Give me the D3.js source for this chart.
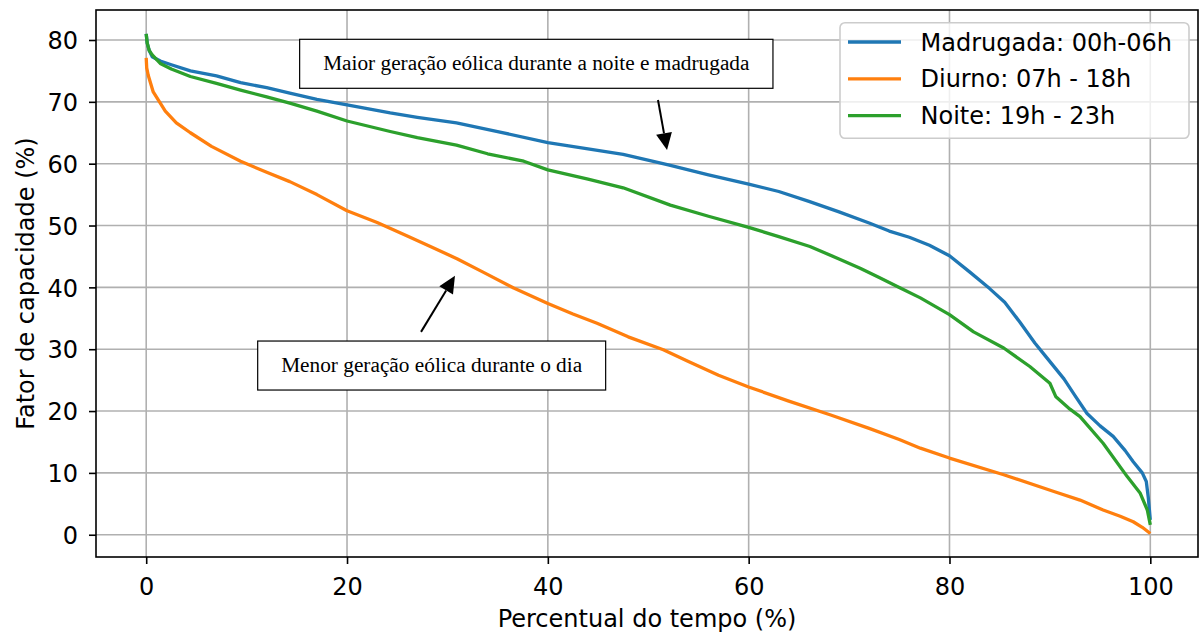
<!DOCTYPE html>
<html>
<head>
<meta charset="utf-8">
<script src="https://cdn.jsdelivr.net/npm/d3@7"></script>
<style>
  html, body { margin: 0; padding: 0; background: #fff; }
  svg { display: block; }
</style>
</head>
<body>
<svg id="chart" width="1202" height="635"></svg>
<script>
// ---------------- DATA ----------------
const seriesNames = ["Madrugada: 00h-06h", "Diurno: 07h - 18h", "Noite: 19h - 23h"];
const seriesColors = ["#1f77b4", "#ff7f0e", "#2ca02c"];

const xMadrugada = [0, 0.1, 0.3, 0.6, 1.4, 2.5, 4.4, 7, 9.4, 12, 14.3, 17, 20, 24.3, 27, 30.9, 35, 40, 44, 47.5, 52, 56, 60, 63, 66, 69, 72, 74, 76, 78, 80, 82, 84, 85.5, 87, 88.5, 89.5, 91.4, 92.5, 93.7, 95, 96.3, 97.5, 98.3, 99.2, 99.6, 99.8, 100];
const yMadrugada = [81.0, 79.5, 78.3, 77.3, 76.6, 76.0, 75.0, 74.2, 73.1, 72.3, 71.4, 70.4, 69.5, 68.2, 67.5, 66.6, 65.2, 63.4, 62.4, 61.5, 59.8, 58.2, 56.7, 55.5, 53.9, 52.2, 50.4, 49.1, 48.1, 46.8, 45.1, 42.5, 39.8, 37.6, 34.4, 31.0, 29.0, 25.2, 22.5, 19.6, 17.6, 15.9, 13.6, 11.8, 10.0, 8.6, 6.0, 2.4];

const xDiurno = [0, 0.05, 0.2, 0.7, 1.9, 3, 4.4, 6.5, 9.4, 12, 14.3, 17, 20, 23, 26, 28.3, 31, 33.5, 36.6, 40, 42.5, 44.9, 48, 51.5, 54, 57, 60, 64, 68.1, 72, 75, 77.1, 80, 85.4, 90.4, 93, 95.3, 97, 98.3, 99.2, 100];
const yDiurno = [77.1, 75.5, 74.3, 71.6, 68.5, 66.6, 65.0, 62.8, 60.4, 58.6, 57.1, 55.0, 52.4, 50.5, 48.3, 46.6, 44.6, 42.5, 39.9, 37.4, 35.7, 34.2, 32.0, 29.9, 28.0, 25.8, 23.9, 21.6, 19.4, 17.2, 15.4, 14.0, 12.4, 9.7, 7.0, 5.6, 4.0, 3.0, 2.1, 1.2, 0.2];

const xNoite = [0, 0.1, 0.3, 0.6, 1.4, 2.5, 4.4, 7, 9.4, 12, 14.3, 17, 20, 24.3, 27, 30.9, 34, 37.6, 40, 44, 47.5, 52.2, 56, 60, 63, 66.1, 69, 71.1, 73, 75.1, 77.1, 80, 82.4, 85.4, 88, 90, 90.6, 92, 93, 95.3, 97.7, 99, 99.7, 100];
const yNoite = [81.0, 79.5, 78.3, 77.6, 76.2, 75.3, 74.1, 73.0, 71.9, 70.8, 69.8, 68.5, 66.9, 65.2, 64.2, 63.0, 61.6, 60.4, 59.0, 57.5, 56.1, 53.3, 51.5, 49.7, 48.2, 46.6, 44.6, 43.1, 41.6, 39.9, 38.3, 35.6, 32.8, 30.2, 27.2, 24.5, 22.3, 20.3, 19.1, 14.8, 9.4, 6.7, 4.0, 1.6];

const xTicks = [0, 20, 40, 60, 80, 100];
const yTicks = [0, 10, 20, 30, 40, 50, 60, 70, 80];

const xLabel = "Percentual do tempo (%)";
const yLabel = "Fator de capacidade (%)";

const annTexts = ["Maior geração eólica durante a noite e madrugada", "Menor geração eólica durante o dia"];
const annTextPos = [[38.85, 76.15], [28.43, 27.36]];
const annArrowFrom = [[50.97, 70.3], [27.37, 32.8]];
const annArrowTo = [[51.87, 62.2], [30.75, 41.86]];

// ---------------- LAYOUT ----------------
const L = 96, R = 1198, T = 10, B = 557;
const svg = d3.select("#chart");
const x = d3.scaleLinear().domain([-5, 104.75]).range([L, R]);
const y = d3.scaleLinear().domain([-3.6, 84.85]).range([B, T]);
const sans = "'DejaVu Sans', sans-serif";
const serif = "'Liberation Serif', 'Times New Roman', serif";

// grid
const grid = svg.append("g");
grid.selectAll("line.gx").data(xTicks).join("line")
  .attr("x1", d => x(d)).attr("x2", d => x(d)).attr("y1", T).attr("y2", B)
  .attr("stroke", "#b0b0b0").attr("stroke-width", 1.6);
grid.selectAll("line.gy").data(yTicks).join("line")
  .attr("y1", d => y(d)).attr("y2", d => y(d)).attr("x1", L).attr("x2", R)
  .attr("stroke", "#b0b0b0").attr("stroke-width", 1.6);

// lines
const series = [
  {xs: xMadrugada, ys: yMadrugada, c: seriesColors[0]},
  {xs: xDiurno, ys: yDiurno, c: seriesColors[1]},
  {xs: xNoite, ys: yNoite, c: seriesColors[2]}
];
const lineGen = d3.line().x(d => x(d[0])).y(d => y(d[1]));
series.forEach(s => {
  svg.append("path")
    .datum(s.xs.map((v, i) => [v, s.ys[i]]))
    .attr("d", lineGen)
    .attr("fill", "none").attr("stroke", s.c).attr("stroke-width", 3.3)
    .attr("stroke-linejoin", "round").attr("stroke-linecap", "butt");
});

// axes
const xAxis = svg.append("g").attr("transform", `translate(0,${B})`)
  .call(d3.axisBottom(x).tickValues(xTicks).tickFormat(d3.format("d")).tickSize(7).tickPadding(14));
const yAxis = svg.append("g").attr("transform", `translate(${L},0)`)
  .call(d3.axisLeft(y).tickValues(yTicks).tickFormat(d3.format("d")).tickSize(7).tickPadding(11));
[xAxis, yAxis].forEach(a => {
  a.select(".domain").remove();
  a.selectAll(".tick line").attr("stroke", "#000").attr("stroke-width", 1.6);
  a.selectAll(".tick text").attr("font-family", sans).attr("font-size", 24).attr("fill", "#000");
});
yAxis.selectAll(".tick text").attr("dy", "0.36em");

// frame
svg.append("rect").attr("x", L).attr("y", T).attr("width", R - L).attr("height", B - T)
  .attr("fill", "none").attr("stroke", "#000").attr("stroke-width", 1.6);

// axis labels
svg.append("text").attr("x", (L + R) / 2).attr("y", 627).attr("text-anchor", "middle")
  .attr("font-family", sans).attr("font-size", 24).text(xLabel);
svg.append("text").attr("transform", `translate(34,${(T + B) / 2}) rotate(-90)`).attr("text-anchor", "middle")
  .attr("font-family", sans).attr("font-size", 24).text(yLabel);

// annotations
annTexts.forEach((t, i) => {
  const g = svg.append("g");
  const cx = x(annTextPos[i][0]), cy = y(annTextPos[i][1]);
  const rect = g.append("rect");
  const txt = g.append("text").attr("x", cx).attr("y", cy).attr("dy", "0.3em")
    .attr("text-anchor", "middle").attr("font-family", serif).attr("font-size", 21.3)
    .attr("fill", "#000").text(t);
  const w = txt.node().getComputedTextLength() + 47;
  rect.attr("x", cx - w / 2).attr("y", cy - 24.5).attr("width", w).attr("height", 49)
    .attr("fill", "#fff").attr("stroke", "#000").attr("stroke-width", 1.2);
  // arrow
  const x0 = x(annArrowFrom[i][0]), y0 = y(annArrowFrom[i][1]);
  const x1 = x(annArrowTo[i][0]), y1 = y(annArrowTo[i][1]);
  const ang = Math.atan2(y1 - y0, x1 - x0);
  const hl = 17, hw = 8;
  const bx = x1 - hl * Math.cos(ang), by = y1 - hl * Math.sin(ang);
  svg.append("line").attr("x1", x0).attr("y1", y0).attr("x2", bx).attr("y2", by)
    .attr("stroke", "#000").attr("stroke-width", 2);
  const px = -Math.sin(ang), py = Math.cos(ang);
  svg.append("polygon")
    .attr("points", [[x1, y1], [bx + hw * px, by + hw * py], [bx - hw * px, by - hw * py]].map(p => p.join(",")).join(" "))
    .attr("fill", "#000");
});

// legend
const lg = svg.append("g");
lg.append("rect").attr("x", 840).attr("y", 22.7).attr("width", 349).attr("height", 115.6)
  .attr("rx", 5).attr("ry", 5).attr("fill", "#fff").attr("fill-opacity", 0.8)
  .attr("stroke", "#cccccc").attr("stroke-width", 1.6);
seriesNames.forEach((n, i) => {
  const ly = 42 + i * 36.8;
  lg.append("line").attr("x1", 848).attr("x2", 901).attr("y1", ly).attr("y2", ly)
    .attr("stroke", seriesColors[i]).attr("stroke-width", 3.3);
  lg.append("text").attr("x", 920.5).attr("y", ly).attr("dy", "0.36em")
    .attr("font-family", sans).attr("font-size", 24).attr("fill", "#000").text(n);
});
</script>
</body>
</html>
